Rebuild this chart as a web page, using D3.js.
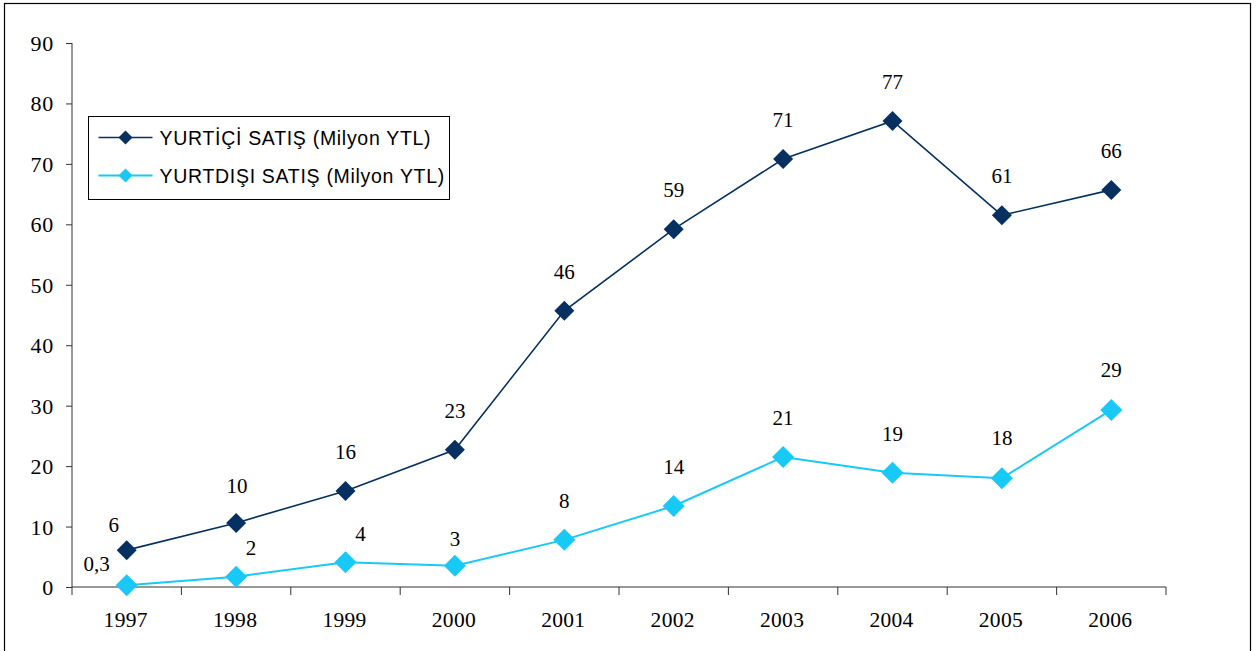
<!DOCTYPE html>
<html>
<head>
<style>
  body { margin: 0; background: #fff; }
  svg { display: block; }
</style>
</head>
<body>
<div id="chart"></div>
<script src="https://cdn.jsdelivr.net/npm/d3@7"></script>
<script>
// data
var years = ["1997", "1998", "1999", "2000", "2001", "2002", "2003", "2004", "2005", "2006"];
var domestic = [6.1, 10.6, 15.9, 22.7, 45.7, 59.2, 70.8, 77.1, 61.5, 65.7];
var domesticLabels = ["6", "10", "16", "23", "46", "59", "71", "77", "61", "66"];
var exportSales = [0.3, 1.7, 4.1, 3.5, 7.8, 13.4, 21.5, 18.9, 18.0, 29.3];
var exportLabels = ["0,3", "2", "4", "3", "8", "14", "21", "19", "18", "29"];
var seriesNames = ["YURTİÇİ SATIŞ (Milyon YTL)", "YURTDIŞI SATIŞ (Milyon YTL)"];
var yTicks = [0, 10, 20, 30, 40, 50, 60, 70, 80, 90];

var W = 1258, H = 651;
var svg = d3.select("#chart").append("svg").attr("width", W).attr("height", H);

// outer frame
svg.append("rect").attr("x", 4.5).attr("y", 3.5).attr("width", 1246).attr("height", 660)
  .attr("fill", "none").attr("stroke", "#000").attr("stroke-width", 1.2);

var pLeft = 72, pRight = 1166, pTop = 43, pBottom = 587;

var x = d3.scaleBand().domain(years).range([pLeft, pRight]);
var y = d3.scaleLinear().domain([0, 90]).range([pBottom, pTop]);

var darkCol = "#05305f", lightCol = "#19c9f5";
var serif = "'Liberation Serif', 'Times New Roman', serif";

// y axis
var yAxis = svg.append("g").attr("transform", "translate(" + pLeft + ",0)")
  .call(d3.axisLeft(y).tickValues(yTicks).tickSize(6).tickPadding(12));
yAxis.attr("font-family", serif).attr("font-size", 22);
yAxis.selectAll("text").attr("fill", "#000").attr("dy", "0.34em").attr("letter-spacing", 0.8);
yAxis.selectAll("line, path").attr("stroke", "#333");
yAxis.select(".domain").attr("d", "M0," + pTop + "V" + pBottom);

// x axis with ticks at band edges
var xg = svg.append("g").attr("transform", "translate(0," + pBottom + ")");
xg.append("line").attr("x1", pLeft).attr("x2", pRight).attr("stroke", "#333");
xg.selectAll("line.edge").data(d3.range(years.length + 1)).enter().append("line")
  .attr("class", "edge")
  .attr("x1", function(i) { return pLeft + i * x.step(); })
  .attr("x2", function(i) { return pLeft + i * x.step(); })
  .attr("y1", 0).attr("y2", 8).attr("stroke", "#333");
xg.selectAll("text").data(years).enter().append("text")
  .attr("x", function(d) { return x(d) + x.bandwidth() / 2 - 1; })
  .attr("y", 40)
  .attr("text-anchor", "middle")
  .attr("font-family", serif)
  .attr("font-size", 21.5)
  .attr("letter-spacing", 0.3)
  .text(function(d) { return d; });

function cx(i) { return x(years[i]) + x.bandwidth() / 2; }

var line = d3.line()
  .x(function(d, i) { return cx(i); })
  .y(function(d) { return y(d); });

function diamond(g, vals, col, r) {
  g.selectAll("path.m").data(vals).enter().append("path")
    .attr("class", "m")
    .attr("d", function(d, i) {
      var px = cx(i), py = y(d);
      return "M" + px + "," + (py - r) + "L" + (px + r) + "," + py + "L" + px + "," + (py + r) + "L" + (px - r) + "," + py + "Z";
    })
    .attr("fill", col);
}

// export series
var gE = svg.append("g");
gE.append("path").datum(exportSales).attr("d", line)
  .attr("fill", "none").attr("stroke", lightCol).attr("stroke-width", 2);
diamond(gE, exportSales, lightCol, 11);

// domestic series
var gD = svg.append("g");
gD.append("path").datum(domestic).attr("d", line)
  .attr("fill", "none").attr("stroke", darkCol).attr("stroke-width", 1.6);
diamond(gD, domestic, darkCol, 10);

// data labels
var domOff = [[-13, -18], [1, -30], [0, -32], [0, -32], [0, -32], [0, -32], [0, -32], [0, -32], [0, -32], [0, -32]];
var expOff = [[-30, -14], [15, -22], [15, -21], [0, -20], [0, -32], [0, -32], [0, -32], [0, -32], [0, -33], [0, -33]];

function labels(vals, texts, offs) {
  svg.append("g").selectAll("text").data(vals).enter().append("text")
    .attr("x", function(d, i) { return cx(i) + offs[i][0]; })
    .attr("y", function(d, i) { return y(d) + offs[i][1]; })
    .attr("text-anchor", "middle")
    .attr("font-family", serif)
    .attr("font-size", 21)
    .attr("fill", "#000")
    .text(function(d, i) { return texts[i]; });
}
labels(domestic, domesticLabels, domOff);
labels(exportSales, exportLabels, expOff);

// legend
var lg = svg.append("g").attr("transform", "translate(88.5,116.5)");
lg.append("rect").attr("width", 361).attr("height", 83)
  .attr("fill", "#fff").attr("stroke", "#000").attr("stroke-width", 1);
[darkCol, lightCol].forEach(function(col, k) {
  var yy = 21 + k * 38;
  lg.append("line").attr("x1", 10).attr("x2", 64).attr("y1", yy).attr("y2", yy)
    .attr("stroke", col).attr("stroke-width", k ? 2 : 1.6);
  var r = 7;
  lg.append("path")
    .attr("d", "M37," + (yy - r) + "L" + (37 + r) + "," + yy + "L37," + (yy + r) + "L" + (37 - r) + "," + yy + "Z")
    .attr("fill", col);
  lg.append("text").attr("x", 71).attr("y", yy + 7)
    .attr("font-family", "'Liberation Sans', Arial, sans-serif")
    .attr("font-size", 19.5)
    .attr("letter-spacing", 0.7)
    .attr("fill", "#000")
    .text(seriesNames[k]);
});
</script>
</body>
</html>
